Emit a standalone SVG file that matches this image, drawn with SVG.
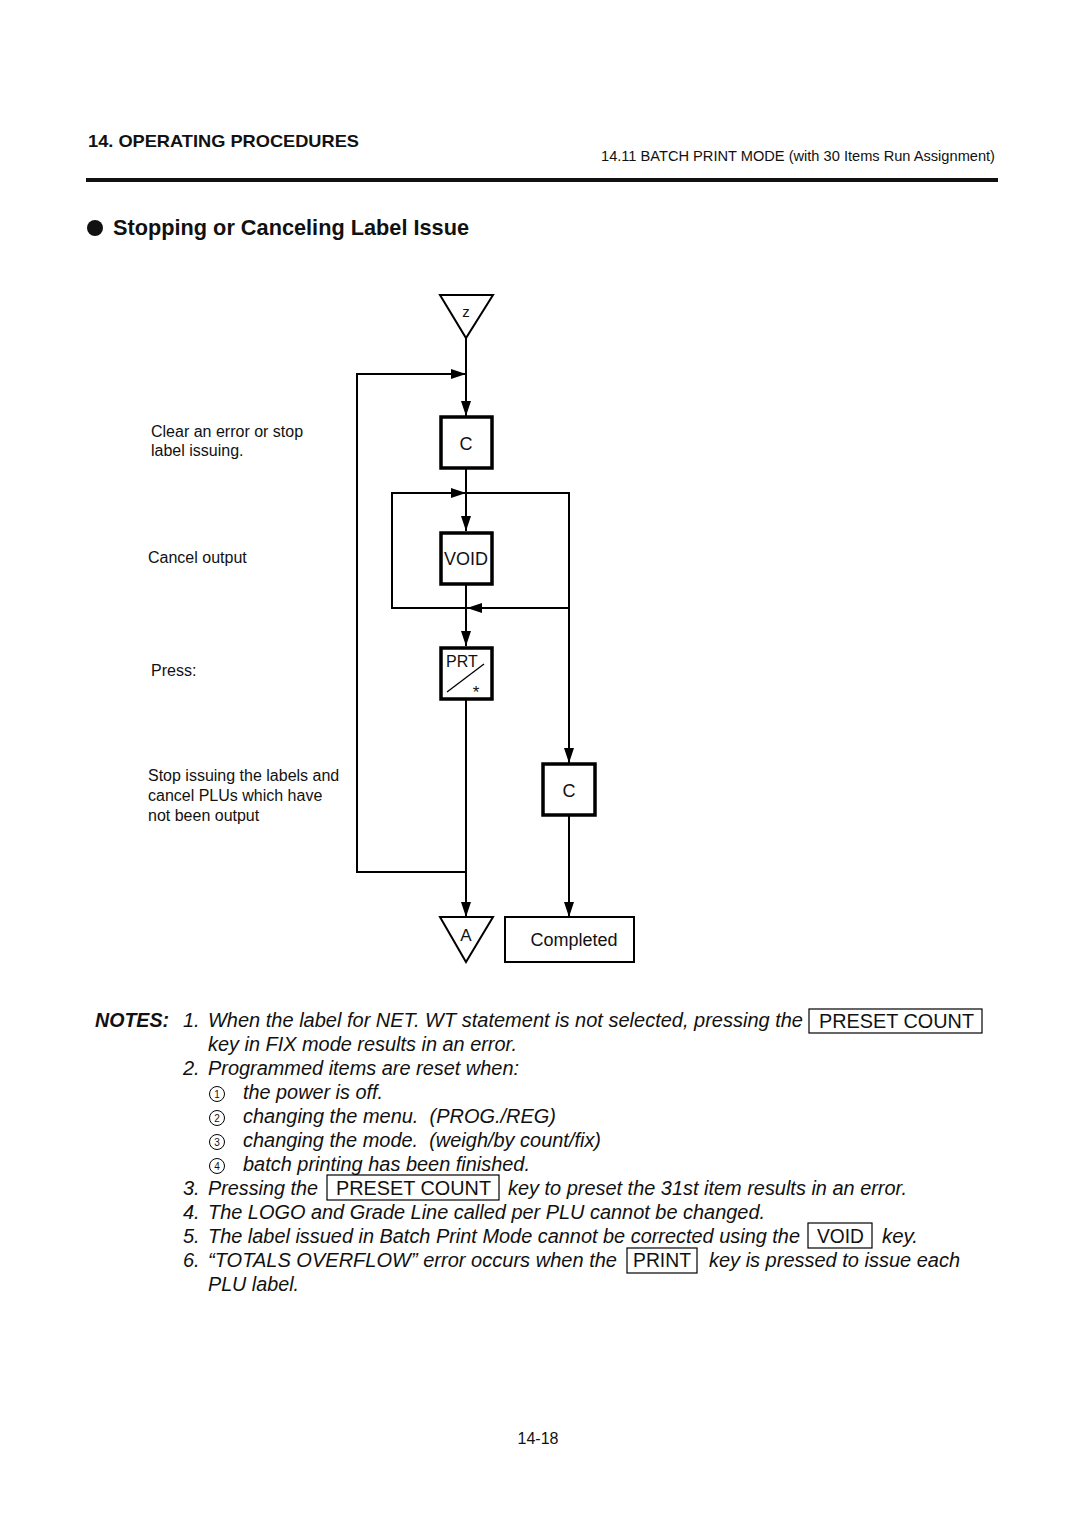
<svg xmlns="http://www.w3.org/2000/svg" width="1080" height="1525" viewBox="0 0 1080 1525">
<defs>
<marker id="arr" markerUnits="userSpaceOnUse" markerWidth="16" markerHeight="12" refX="15" refY="5" orient="auto">
<path d="M0,0 L15,5 L0,10 z" fill="#000"/>
</marker>
</defs>
<style>
text{font-family:"Liberation Sans",Arial,sans-serif;fill:#111;white-space:pre}
.hd{font-weight:bold;font-size:17px}
.sub{font-size:14.5px}
.title{font-weight:bold;font-size:21.5px}
.lbl{font-size:16px}
.box{fill:#fff;stroke:#000;stroke-width:3.5}
.tri{fill:#fff;stroke:#000;stroke-width:2}
.key{font-size:18px;text-anchor:middle}
.con{fill:none;stroke:#000;stroke-width:2}
.n{font-size:20px;font-style:italic}
.nk{font-size:20px}
.kb{fill:none;stroke:#000;stroke-width:1.2}
.cn{font-size:10px;text-anchor:middle}
.cc{fill:none;stroke:#000;stroke-width:1}
</style>
<rect width="1080" height="1525" fill="#fff"/>
<g id="header">
<text class="hd" x="88" y="147" textLength="271" lengthAdjust="spacingAndGlyphs">14. OPERATING PROCEDURES</text>
<text class="sub" x="995" y="161" text-anchor="end" textLength="394" lengthAdjust="spacingAndGlyphs">14.11 BATCH PRINT MODE (with 30 Items Run Assignment)</text>
<rect x="86" y="178" width="912" height="4" fill="#111"/>
<circle cx="95" cy="228" r="8" fill="#111"/>
<text class="title" x="113" y="235" textLength="356" lengthAdjust="spacingAndGlyphs">Stopping or Canceling Label Issue</text>
</g>
<g id="labels">
<text class="lbl" x="151" y="437">Clear an error or stop</text>
<text class="lbl" x="151" y="456">label issuing.</text>
<text class="lbl" x="148" y="563">Cancel output</text>
<text class="lbl" x="151" y="676">Press:</text>
<text class="lbl" x="148" y="781">Stop issuing the labels and</text>
<text class="lbl" x="148" y="801">cancel PLUs which have</text>
<text class="lbl" x="148" y="821">not been output</text>
</g>
<g id="connectors">
<path class="con" d="M466,338 V416" marker-end="url(#arr)"/>
<path class="con" d="M466,469 V531" marker-end="url(#arr)"/>
<path class="con" d="M466,584 V646" marker-end="url(#arr)"/>
<path class="con" d="M466,700 V917" marker-end="url(#arr)"/>
<path class="con" d="M466,872 H357 V374 H466" marker-end="url(#arr)"/>
<path class="con" d="M466,608 H392 V493 H466" marker-end="url(#arr)"/>
<path class="con" d="M466,493 H569 V763" marker-end="url(#arr)"/>
<path class="con" d="M569,608 H467" marker-end="url(#arr)"/>
<path class="con" d="M569,816 V917" marker-end="url(#arr)"/>
</g>
<g id="node-z">
<path class="tri" d="M440,295 H493 L466,338 Z"/>
<text x="466" y="317" text-anchor="middle" font-size="15">z</text>
</g>
<g id="node-c1">
<rect class="box" x="441" y="417" width="51" height="51"/>
<text class="key" x="466" y="450">C</text>
</g>
<g id="node-void">
<rect class="box" x="441" y="533" width="51" height="51"/>
<text class="key" x="466" y="565" textLength="44" lengthAdjust="spacingAndGlyphs">VOID</text>
</g>
<g id="node-prt">
<rect class="box" x="441" y="648" width="51" height="51"/>
<text x="446" y="667" font-size="16">PRT</text>
<line x1="447" y1="692" x2="484" y2="664" stroke="#000" stroke-width="1.3"/>
<text x="476" y="698" font-size="17" text-anchor="middle">*</text>
</g>
<g id="node-c2">
<rect class="box" x="543" y="764" width="52" height="51"/>
<text class="key" x="569" y="797">C</text>
</g>
<g id="node-a">
<path class="tri" d="M440,917 H493 L466,962 Z"/>
<text x="466" y="941" text-anchor="middle" font-size="17">A</text>
</g>
<g id="node-completed">
<rect x="505" y="917" width="129" height="45" fill="#fff" stroke="#000" stroke-width="2"/>
<text x="574" y="946" text-anchor="middle" font-size="18">Completed</text>
</g>
<g id="notes">
<text x="95" y="1027" font-size="20" font-weight="bold" font-style="italic" textLength="74" lengthAdjust="spacingAndGlyphs">NOTES:</text>
<text class="n" x="183" y="1027">1.</text>
<text class="n" x="208" y="1027" textLength="595" lengthAdjust="spacingAndGlyphs">When the label for NET. WT statement is not selected, pressing the</text>
<rect class="kb" x="809" y="1009" width="173" height="24"/>
<text class="nk" x="819" y="1028" textLength="155" lengthAdjust="spacingAndGlyphs">PRESET COUNT</text>
<text class="n" x="208" y="1051" textLength="309" lengthAdjust="spacingAndGlyphs">key in FIX mode results in an error.</text>
<text class="n" x="183" y="1075">2.</text>
<text class="n" x="208" y="1075" textLength="311" lengthAdjust="spacingAndGlyphs">Programmed items are reset when:</text>
<circle class="cc" cx="217" cy="1094" r="7.5"/><text class="cn" x="217" y="1098">1</text>
<text class="n" x="243" y="1099" textLength="140" lengthAdjust="spacingAndGlyphs">the power is off.</text>
<circle class="cc" cx="217" cy="1118" r="7.5"/><text class="cn" x="217" y="1122">2</text>
<text class="n" x="243" y="1123" textLength="313" lengthAdjust="spacingAndGlyphs">changing the menu.  (PROG./REG)</text>
<circle class="cc" cx="217" cy="1142" r="7.5"/><text class="cn" x="217" y="1146">3</text>
<text class="n" x="243" y="1147" textLength="358" lengthAdjust="spacingAndGlyphs">changing the mode.  (weigh/by count/fix)</text>
<circle class="cc" cx="217" cy="1166" r="7.5"/><text class="cn" x="217" y="1170">4</text>
<text class="n" x="243" y="1171" textLength="287" lengthAdjust="spacingAndGlyphs">batch printing has been finished.</text>
<text class="n" x="183" y="1195">3.</text>
<text class="n" x="208" y="1195" textLength="110" lengthAdjust="spacingAndGlyphs">Pressing the</text>
<rect class="kb" x="327" y="1175" width="172" height="25"/>
<text class="nk" x="336" y="1195" textLength="155" lengthAdjust="spacingAndGlyphs">PRESET COUNT</text>
<text class="n" x="508" y="1195" textLength="399" lengthAdjust="spacingAndGlyphs">key to preset the 31st item results in an error.</text>
<text class="n" x="183" y="1219">4.</text>
<text class="n" x="208" y="1219" textLength="557" lengthAdjust="spacingAndGlyphs">The LOGO and Grade Line called per PLU cannot be changed.</text>
<text class="n" x="183" y="1243">5.</text>
<text class="n" x="208" y="1243" textLength="592" lengthAdjust="spacingAndGlyphs">The label issued in Batch Print Mode cannot be corrected using the</text>
<rect class="kb" x="808" y="1223" width="64" height="25"/>
<text class="nk" x="817" y="1243" textLength="47" lengthAdjust="spacingAndGlyphs">VOID</text>
<text class="n" x="882" y="1243" textLength="36" lengthAdjust="spacingAndGlyphs">key.</text>
<text class="n" x="183" y="1267">6.</text>
<text class="n" x="208" y="1267" textLength="409" lengthAdjust="spacingAndGlyphs">“TOTALS OVERFLOW” error occurs when the</text>
<rect class="kb" x="627" y="1248" width="70" height="25"/>
<text class="nk" x="633" y="1267" textLength="58" lengthAdjust="spacingAndGlyphs">PRINT</text>
<text class="n" x="709" y="1267" textLength="251" lengthAdjust="spacingAndGlyphs">key is pressed to issue each</text>
<text class="n" x="208" y="1291" textLength="91" lengthAdjust="spacingAndGlyphs">PLU label.</text>
</g>
<g id="footer">
<text x="538" y="1444" text-anchor="middle" font-size="16">14-18</text>
</g>
</svg>
